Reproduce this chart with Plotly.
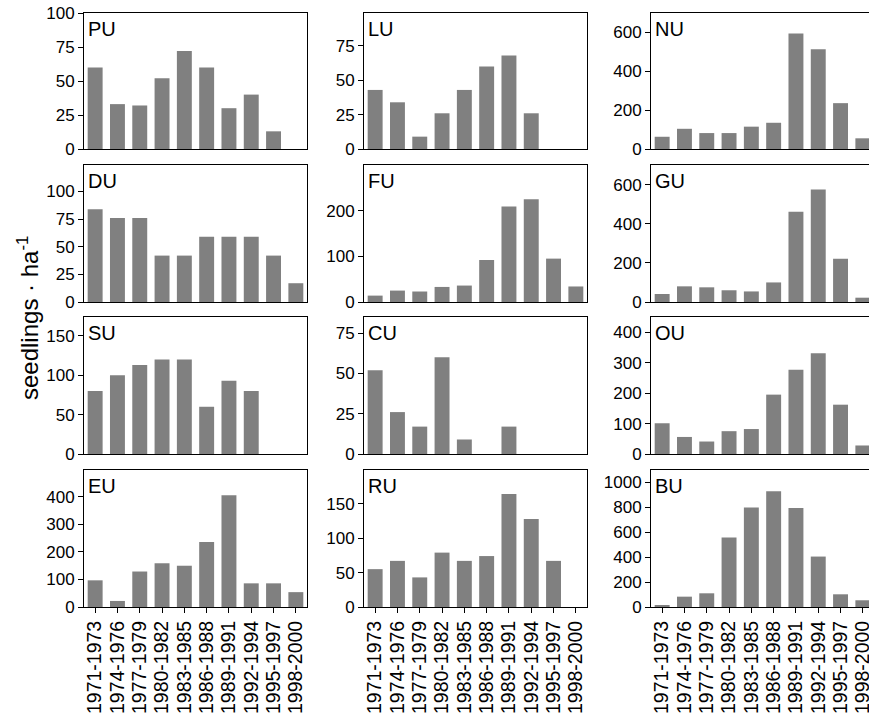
import plotly.graph_objects as go

# ---------------- data ----------------
periods = ["1971-1973", "1974-1976", "1977-1979", "1980-1982", "1983-1985",
           "1986-1988", "1989-1991", "1992-1994", "1995-1997", "1998-2000"]

panel_names = ["PU", "LU", "NU", "DU", "FU", "GU", "SU", "CU", "OU", "EU", "RU", "BU"]

PU = [60, 33, 32, 52, 72, 60, 30, 40, 13, 0]
LU = [43, 34, 9, 26, 43, 60, 68, 26, 0, 0]
NU = [63, 104, 82, 82, 115, 135, 595, 513, 236, 55]
DU = [84, 76, 76, 42, 42, 59, 59, 59, 42, 17]
FU = [14, 25, 23, 33, 36, 92, 209, 225, 95, 34]
GU = [41, 80, 75, 60, 54, 100, 461, 575, 221, 22]
SU = [80, 100, 113, 120, 120, 60, 93, 80, 0, 0]
CU = [52, 26, 17, 60, 9, 0, 17, 0, 0, 0]
OU = [101, 56, 41, 75, 82, 195, 277, 331, 162, 28]
EU = [97, 22, 129, 159, 150, 236, 406, 86, 86, 54]
RU = [55, 67, 43, 79, 67, 74, 164, 128, 67, 0]
BU = [11, 83, 110, 558, 799, 930, 794, 405, 102, 54]

series = [PU, LU, NU, DU, FU, GU, SU, CU, OU, EU, RU, BU]

y_max = [100, 99, 700, 124, 300, 700, 174, 85, 450, 498, 199, 1100]
y_ticks = [[0, 25, 50, 75, 100], [0, 25, 50, 75], [0, 200, 400, 600],
           [0, 25, 50, 75, 100], [0, 100, 200], [0, 200, 400, 600],
           [0, 50, 100, 150], [0, 25, 50, 75], [0, 100, 200, 300, 400],
           [0, 100, 200, 300, 400], [0, 50, 100, 150], [0, 200, 400, 600, 800, 1000]]

y_title = "seedlings · ha<sup>-1</sup>"

# ---------------- layout geometry ----------------
W, H = 869, 721
col_px = [(84, 307), (364, 587), (651, 874)]
row_px = [(13, 149), (165, 302), (317, 454), (470, 607)]
pitch = (col_px[0][1] - col_px[0][0]) / len(periods)

FONT = "Arial, 'Liberation Sans', sans-serif"

fig = go.Figure()
layout = dict(
    width=W, height=H,
    margin=dict(l=0, r=0, t=0, b=0),
    paper_bgcolor="white", plot_bgcolor="white",
    showlegend=False,
    bargap=0.33,
    font=dict(family=FONT, color="black", size=16),
)
annotations = []

for i, (name, vals) in enumerate(zip(panel_names, series)):
    r, c = divmod(i, 3)
    k = i + 1
    xa = "xaxis" if k == 1 else f"xaxis{k}"
    ya = "yaxis" if k == 1 else f"yaxis{k}"
    xr = "x" if k == 1 else f"x{k}"
    yr = "y" if k == 1 else f"y{k}"
    left, right = col_px[c]
    right_vis = min(right, W)
    top, bottom = row_px[r]
    bottom_row = (r == 3)

    fig.add_trace(go.Bar(x=periods, y=vals, xaxis=xr, yaxis=yr,
                         marker=dict(color="#808080", line=dict(width=0)),
                         hoverinfo="x+y"))

    layout[xa] = dict(
        domain=[left / W, right_vis / W],
        anchor=yr,
        type="category",
        range=[-0.5, -0.5 + (right_vis - left) / pitch],
        tickmode="array", tickvals=periods, ticktext=periods,
        showline=True, linecolor="black", linewidth=1,
        mirror=True,
        showgrid=False, zeroline=False,
        ticks="outside" if bottom_row else "",
        ticklen=5, tickcolor="black",
        showticklabels=bottom_row,
        tickangle=-90,
        tickfont=dict(size=19.5, family=FONT, color="black"),
        automargin=False, fixedrange=True,
    )
    layout[ya] = dict(
        domain=[1 - bottom / H, 1 - top / H],
        anchor=xr,
        range=[0, y_max[i]],
        tickmode="array", tickvals=y_ticks[i],
        showline=True, linecolor="black", linewidth=1,
        mirror=(c != 2),
        showgrid=False, zeroline=False,
        ticks="outside", ticklen=5, tickcolor="black",
        tickfont=dict(size=17, family=FONT, color="black"),
        automargin=False, fixedrange=True,
    )
    annotations.append(dict(
        text=name, xref=f"{xr} domain", yref=f"{yr} domain",
        x=0, y=1, xanchor="left", yanchor="top",
        xshift=2, yshift=-3, showarrow=False,
        font=dict(size=20, family=FONT, color="black"),
    ))

annotations.append(dict(
    text=y_title, xref="paper", yref="paper",
    x=28 / W, y=1 - 318 / H, xanchor="center", yanchor="middle",
    textangle=-90, showarrow=False,
    font=dict(size=24, family=FONT, color="black"),
))
layout["annotations"] = annotations
fig.update_layout(**layout)

fig.write_html("out.html")
